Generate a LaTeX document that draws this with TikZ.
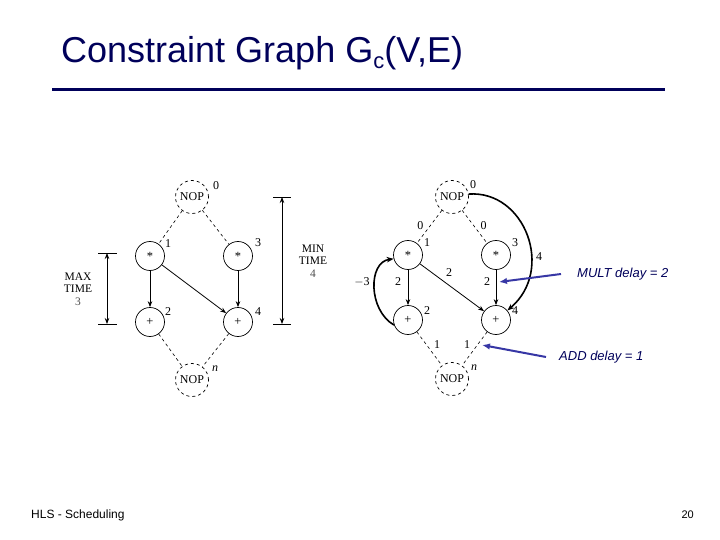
\documentclass[tikz,border=0pt]{standalone}
\usepackage{fontspec}
\setmainfont{Liberation Serif}
\newfontfamily\arialf{Liberation Sans}
\usetikzlibrary{arrows.meta}
\definecolor{navy}{RGB}{0,0,90}
\definecolor{arrowblue}{RGB}{55,55,165}
\newcommand{\opmul}{\raisebox{-2.5pt}{*}}
\begin{document}
\begin{tikzpicture}[x=1pt,y=-1pt,
  opnode/.style={circle,draw,line width=0.7pt,minimum size=29pt,inner sep=0pt,font=\fontsize{12.5}{12.5}\selectfont},
  nopnode/.style={circle,draw,dashed,line width=0.7pt,minimum size=33pt,inner sep=0pt,font=\fontsize{12}{12}\selectfont},
  lbl/.style={font=\fontsize{12}{12}\selectfont,inner sep=0pt},
  dep/.style={-{Stealth[length=6pt,width=4.5pt]},line width=0.8pt},
  bigdep/.style={-{Stealth[length=7pt,width=5.5pt]},line width=1.6pt},
  dsh/.style={dashed,line width=0.6pt},
  bracket/.style={line width=0.8pt},
  blarrow/.style={-{Latex[length=8pt,width=6.5pt]},arrowblue,line width=2pt},
  note/.style={font=\arialf\itshape\fontsize{13}{13}\selectfont,text=navy,inner sep=0pt,anchor=west}
]
\useasboundingbox (0,0) rectangle (720,540);

% title
\node[anchor=base west,inner sep=0pt,font=\arialf\fontsize{36}{36}\selectfont,text=navy] (title) at (61,63)
  {Constraint Graph G\raisebox{-6pt}{\fontsize{22}{22}\selectfont c}(V,E)};
\draw[navy,line width=3pt] (52,90) -- (665,90);

% footer
\node[anchor=base west,inner sep=0pt,font=\arialf\fontsize{12}{12}\selectfont] (foot) at (31,518) {HLS - Scheduling};
\node[anchor=base east,inner sep=0pt,font=\arialf\fontsize{11}{11}\selectfont] (page) at (694,518) {20};

% ---------- left graph ----------
\node[nopnode] (n0) at (192,197) {NOP};
\node[opnode] (a1) at (150,256) {\opmul};
\node[opnode] (a3) at (238,256) {\opmul};
\node[opnode] (a2) at (150,322) {+};
\node[opnode] (a4) at (238,322) {+};
\node[nopnode] (nn) at (192,380) {NOP};

\node[lbl] (ln0) at (216,186) {0};
\node[lbl] (la1) at (168,244) {1};
\node[lbl] (la3) at (258,243) {3};
\node[lbl] (la2) at (168,312) {2};
\node[lbl] (la4) at (258,312) {4};
\node[lbl] (lnn) at (215,369) {\itshape n};

\draw[dsh] (n0) -- (a1);
\draw[dsh] (n0) -- (a3);
\draw[dep] (a1) -- (a2);
\draw[dep] (a1) -- (a4);
\draw[dep] (a3) -- (a4);
\draw[dsh] (a2) -- (nn);
\draw[dsh] (a4) -- (nn);

% MAX TIME bracket
\coordinate (mx1) at (107,253);
\coordinate (mx2) at (107,324);
\draw[bracket] ([xshift=-9pt]mx1) -- ([xshift=10pt]mx1);
\draw[bracket] ([xshift=-9pt]mx2) -- ([xshift=10pt]mx2);
\draw[bracket,{Stealth[length=6pt,width=4.5pt]}-{Stealth[length=6pt,width=4.5pt]}] (mx1) -- (mx2);
\node[lbl,align=center,font=\fontsize{11.5}{12.5}\selectfont] (maxt) at (78,289) {MAX\\TIME\\\textcolor{black!70}{3}};

% MIN TIME bracket
\coordinate (mn1) at (282,197);
\coordinate (mn2) at (282,324);
\draw[bracket] ([xshift=-9pt]mn1) -- ([xshift=9pt]mn1);
\draw[bracket] ([xshift=-9pt]mn2) -- ([xshift=9pt]mn2);
\draw[bracket,{Stealth[length=6pt,width=4.5pt]}-{Stealth[length=6pt,width=4.5pt]}] (mn1) -- (mn2);
\node[lbl,align=center,font=\fontsize{11.5}{12.5}\selectfont] (mint) at (313,261) {MIN\\TIME\\\textcolor{black!70}{4}};

% ---------- right graph ----------
\node[nopnode] (b0) at (452,197) {NOP};
\node[opnode] (b1) at (408,255) {\opmul};
\node[opnode] (b3) at (496,255) {\opmul};
\node[opnode] (b2) at (408,320) {+};
\node[opnode] (b4) at (496,320) {+};
\node[nopnode] (bn) at (452,379) {NOP};

\node[lbl] (lb0) at (473,185) {0};
\node[lbl] (lb1) at (427,243) {1};
\node[lbl] (lb3) at (515,243) {3};
\node[lbl] (lb2) at (427,311) {2};
\node[lbl] (lb4) at (515,311) {4};
\node[lbl] (lbn) at (474,368) {\itshape n};

\draw[dsh] (b0) -- (b1) node[lbl,pos=0.5,xshift=-9pt,yshift=1pt] (e01) {0};
\draw[dsh] (b0) -- (b3) node[lbl,pos=0.5,xshift=9pt,yshift=1pt] (e03) {0};
\draw[dep] (b1) -- (b2);
\draw[dep] (b1) -- (b4);
\draw[dep] (b3) -- (b4);
\draw[dsh] (b2) -- (bn);
\draw[dsh] (b4) -- (bn);
\draw[bigdep] (b0.10) .. controls (525,190) and (555,270) .. (b4.40);
\draw[bigdep] (b2.200) .. controls (368,310) and (368,262) .. (b1.195);

\node[lbl] (w12) at (398,282) {2};
\node[lbl] (w14) at (449,273) {2};
\node[lbl] (w34) at (487,282) {2};
\node[lbl] (w04) at (539,257) {4};
\node[lbl] (w21) at (362,282) {$-$3};
\node[lbl] (w2n) at (437,345) {1};
\node[lbl] (w4n) at (467,345) {1};

% annotations
\node[note] (mult) at (577,274) {MULT delay = 2};
\node[note] (add) at (559,357) {ADD delay = 1};
\coordinate (mh) at (499,282);
\coordinate (ah) at (482,345);
\draw[blarrow] ([xshift=-16pt]mult.west) -- (mh);
\draw[blarrow] ([xshift=-13pt]add.west) -- (ah);
\end{tikzpicture}
\end{document}
